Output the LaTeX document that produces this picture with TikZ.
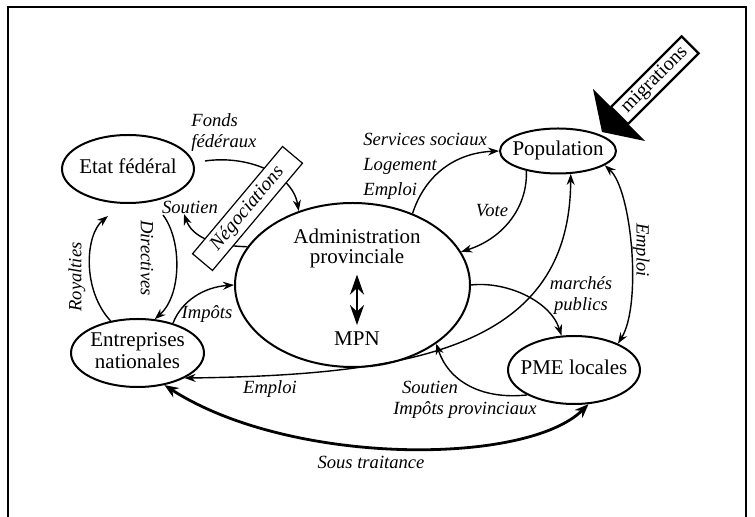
\documentclass[tikz,border=0pt]{standalone}
\usepackage{fontspec}
\setmainfont{Liberation Serif}
\usetikzlibrary{arrows.meta,positioning,shapes.geometric}

\tikzset{
  ent/.style={draw, ellipse, line width=1pt, inner sep=0pt, font=\fontsize{10.5}{11}\selectfont},
  lbl/.style={font=\fontsize{9.3}{10.5}\selectfont\itshape, inner sep=1pt},
  arr/.style={line width=0.7pt, -{Stealth[length=5.5pt,width=4pt]}},
  darr/.style={line width=0.7pt, {Stealth[length=5.5pt,width=4pt]}-{Stealth[length=5.5pt,width=4pt]}},
}
\newcommand{\intext}[1]{\makebox[0pt]{\begin{tabular}{@{}c@{}}#1\end{tabular}}}

\begin{document}
\begin{tikzpicture}[x=0.5pt, y=-0.5pt]
    \useasboundingbox (0,0) rectangle (755,517);
    % Frame
    \draw[line width=1.2pt] (8,530) -- (8,7) -- (746,7) -- (746,530);

    % Actors
    \node[ent, minimum width=66pt, minimum height=34pt] (etat) at (128,169) {\intext{Etat fédéral}};
    \node[ent, minimum width=66.5pt, minimum height=34pt] (entr) at (137.5,353) {\intext{Entreprises\\nationales}};
    \node[ent, minimum width=58pt, minimum height=22.5pt] (pop) at (558,151) {\intext{Population}};
    \node[ent, minimum width=66pt, minimum height=34pt] (pme) at (574,370) {\intext{PME locales}};
    \node[ent, minimum width=117.5pt, minimum height=82pt] (admin) at (352.5,285) {};
    \node[font=\fontsize{10.5}{10}\selectfont, align=center] (admtxt) at (357,248) {Administration\\provinciale};
    \node[font=\fontsize{10.5}{11}\selectfont] (mpn) at (357,339) {MPN};
    \draw[line width=1.2pt, {Stealth[length=10pt,width=7pt]}-{Stealth[length=10pt,width=7pt]}] (admtxt) -- (mpn);

    % Free ends
    \coordinate (ff) at (205,161);
    \coordinate (sout1) at (184,214);
    \coordinate (dir1) at (163,215);
    \coordinate (roy2) at (108,216);

    % Flows
    \draw[arr] (ff) .. controls (245,155) and (292,172) .. (admin.126);
    \draw[arr] (admin.160) .. controls (212,246) and (192,236) .. (sout1);
    \draw[arr] (dir1) .. controls (182,240) and (182,295) .. (entr.63);
    \draw[arr] (entr.130) .. controls (82,290) and (85,235) .. (roy2);
    \draw[arr] (entr.40) .. controls (182,300) and (205,287) .. (admin.west);
    \draw[arr] (admin.50) .. controls (425,175) and (455,153) .. (pop.west);
    \draw[arr] (pop.212) .. controls (528,205) and (505,238) .. (admin.17);
    \draw[darr] (entr.-28) .. controls (420,375) and (570,345) .. (pop.-61);
    \draw[arr] (pme.208) .. controls (480,400) and (448,380) .. (admin.-35);
    \draw[arr] (admin.east) .. controls (505,281) and (550,300) .. (pme.110);
    \draw[darr] (pop.-17) .. controls (632,190) and (642,305) .. (pme.31);
    \draw[line width=1.4pt, {Stealth[length=7pt,width=5.5pt]}-{Stealth[length=7pt,width=5.5pt]}]
        (entr.-50) .. controls (290,466) and (526,466) .. (pme.-67);

    % Negotiation box
    \node[draw, fill=white, line width=0.6pt, rotate=50, minimum width=70pt, minimum height=13pt,
          inner sep=0pt, font=\fontsize{9.8}{10}\selectfont\itshape] (nego) at (247.5,208.5) {Négociations};

    % Migrations
    \fill (593,89) -- (645,141) -- (602,132) -- cycle;
    \node[draw, fill=white, line width=1.1pt, rotate=45, minimum width=50pt, minimum height=12pt,
          inner sep=0pt, font=\fontsize{10}{10}\selectfont] (migr) at (654.75,80.25) {migrations};

    % Labels
    \node[lbl, anchor=west, align=left] (lfonds) at (189,133) {Fonds\\fédéraux};
    \node[lbl] (lsout1) at (190,207) {Soutien};
    \node[lbl, rotate=-90] (ldir) at (147,258) {Directives};
    \node[lbl, rotate=90] (lroy) at (77,277) {Royalties};
    \node[lbl] (limp) at (207,314) {Impôts};
    \node[lbl, anchor=west, align=left] (lserv) at (361,166) {Services sociaux\\[2pt]Logement\\[2pt]Emploi};
    \node[lbl] (lvote) at (492,211) {Vote};
    \node[lbl] (lempl1) at (270,389) {Emploi};
    \node[lbl] (lsout2) at (430,387) {Soutien};
    \node[lbl] (limpprov) at (465,410) {Impôts provinciaux};
    \node[lbl, align=center] (lmarch) at (581,296) {marchés\\publics};
    \node[lbl, rotate=-90] (lempl2) at (641,250) {Emploi};
    \node[lbl] (lsous) at (371,462) {Sous traitance};
\end{tikzpicture}
\end{document}
